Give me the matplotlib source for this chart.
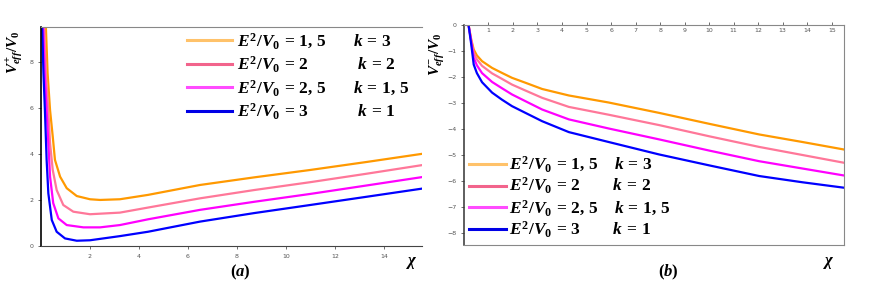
import matplotlib
matplotlib.use("Agg")
import matplotlib.pyplot as plt
from matplotlib.lines import Line2D

plt.rcParams["mathtext.fontset"] = "custom"
plt.rcParams["mathtext.it"] = "Liberation Serif:italic:bold"
plt.rcParams["mathtext.rm"] = "Liberation Serif:bold"
plt.rcParams["mathtext.bf"] = "Liberation Serif:bold"

# ---- data ----
colors = ["#FF9900", "#FF7799", "#FF00FF", "#0000FF"]
legend_colors = ["#FFC26A", "#F2648C", "#FF4CFF", "#0000E6"]
e_labels = [r"1,\,5", "2", r"2,\,5", "3"]
k_labels = ["3", "2", r"1,\,5", "1"]
k_gap_a = [5, 9, 5, 9]  # spaces between the two parts of each legend label
k_gap_b = [3, 6, 3, 6]

# panel (a): V+_eff / V0
xa_orange = [0.2, 0.27, 0.37, 0.48, 0.57, 0.78, 1.05, 1.46, 2.0, 2.41, 3.22, 4.37, 6.49, 8.7, 10.98, 13.3, 15.54]
ya_orange = [9.5, 7.5, 5.9, 4.75, 3.74, 3.01, 2.51, 2.17, 2.03, 2.0, 2.03, 2.22, 2.65, 2.98, 3.30, 3.65, 4.0]
xa_pink = [0.13, 0.2, 0.3, 0.37, 0.48, 0.64, 0.91, 1.32, 2.0, 3.22, 4.37, 6.49, 8.7, 10.98, 13.3, 15.54]
ya_pink = [9.5, 7.5, 5.9, 4.46, 3.3, 2.43, 1.78, 1.49, 1.38, 1.45, 1.67, 2.07, 2.43, 2.77, 3.14, 3.51]
xa_magenta = [0.09, 0.15, 0.23, 0.3, 0.37, 0.5, 0.71, 1.05, 1.73, 2.41, 3.22, 4.37, 6.49, 8.7, 10.98, 13.3, 15.54]
ya_magenta = [9.5, 7.5, 5.9, 4.46, 3.01, 1.86, 1.2, 0.91, 0.81, 0.81, 0.91, 1.16, 1.57, 1.92, 2.26, 2.63, 2.99]
xa_blue = [0.05, 0.1, 0.16, 0.23, 0.3, 0.44, 0.64, 0.98, 1.46, 2.0, 3.22, 4.37, 6.49, 8.7, 10.98, 13.3, 15.54]
ya_blue = [9.5, 7.5, 5.9, 3.74, 2.29, 1.13, 0.62, 0.33, 0.23, 0.25, 0.43, 0.62, 1.06, 1.43, 1.78, 2.14, 2.49]

# panel (b): V-_eff / V0
xb = [0.19, 0.3, 0.4, 0.53, 0.74, 1.15, 1.55, 1.96, 2.51, 3.19, 4.28, 5.9, 7.96, 10.0, 12.04, 13.8, 15.5]
yb_orange = [0, -0.56, -0.94, -1.17, -1.39, -1.65, -1.84, -2.03, -2.22, -2.46, -2.71, -2.98, -3.38, -3.8, -4.21, -4.5, -4.79]
yb_pink = [0, -0.6, -1.07, -1.32, -1.57, -1.86, -2.07, -2.29, -2.52, -2.8, -3.15, -3.45, -3.85, -4.28, -4.69, -5.0, -5.3]
yb_magenta = [0, -0.65, -1.26, -1.55, -1.85, -2.19, -2.43, -2.67, -2.93, -3.25, -3.63, -3.98, -4.4, -4.83, -5.24, -5.52, -5.79]
yb_blue = [0, -0.75, -1.52, -1.85, -2.2, -2.6, -2.87, -3.12, -3.38, -3.7, -4.12, -4.5, -4.98, -5.4, -5.81, -6.05, -6.26]

xticks_a = [2, 4, 6, 8, 10, 12, 14]
yticks_a = [0, 2, 4, 6, 8]
xticks_b = list(range(1, 16))
yticks_b = [0, -1, -2, -3, -4, -5, -6, -7, -8]

curves_a = [(xa_orange, ya_orange), (xa_pink, ya_pink), (xa_magenta, ya_magenta), (xa_blue, ya_blue)]
curves_b = [yb_orange, yb_pink, yb_magenta, yb_blue]

fig = plt.figure(figsize=(8.72, 2.95), dpi=100)
ax1 = fig.add_axes([0.047, 0.166, 0.437, 0.742])
ax2 = fig.add_axes([0.532, 0.169, 0.436, 0.746])

tick_col = "#555555"
lw = 1.6

for (x, y), c in zip(curves_a, colors):
    ax1.plot(x, y, color=c, lw=lw, solid_joinstyle="round")
for y, c in zip(curves_b, colors):
    ax2.plot(xb, y, color=c, lw=lw, solid_joinstyle="round")


def make_handles(gaps):
    hs = [Line2D([0], [0], color=c, lw=2.2) for c in legend_colors]
    labs = [f"$E^2/V_0\\,=\\,{e}$" + " " * g + f"$k\\,=\\,{k}$"
            for e, k, g in zip(e_labels, k_labels, gaps)]
    return hs, labs


# panel (a)
ax1.set_xlim(0, 15.55)
ax1.set_ylim(0, 9.5)
ax1.set_xticks(xticks_a)
ax1.set_yticks(yticks_a)
ax1.tick_params(labelsize=4.5, colors=tick_col, length=2, width=0.6)
ax1.spines["right"].set_visible(False)
ax1.spines["top"].set_color("#888888")
ax1.spines["bottom"].set_color("#444444")
ax1.spines["left"].set_color("black")
ax1.spines["left"].set_linewidth(1.2)
hs, labs = make_handles(k_gap_a)
ax1.legend(hs, labs, loc="upper left", bbox_to_anchor=(0.375, 0.997), frameon=False,
           fontsize=12.5, handlelength=2.6, handletextpad=0.25, labelspacing=0.2,
           borderaxespad=0.0, borderpad=0.2)

# panel (b)
ax2.set_xlim(0, 15.5)
ax2.set_ylim(-8.47, 0)
ax2.set_xticks(xticks_b)
ax2.set_yticks(yticks_b)
ax2.xaxis.tick_top()
ax2.tick_params(axis="x", labelsize=4.5, colors=tick_col, length=2, width=0.6,
                direction="out", pad=-8)
ax2.tick_params(axis="y", labelsize=4.5, colors=tick_col, length=2, width=0.6)
for s in ["top", "right", "bottom"]:
    ax2.spines[s].set_color("#888888")
ax2.spines["left"].set_color("#333333")
ax2.spines["left"].set_linewidth(1.1)
hs, labs = make_handles(k_gap_b)
ax2.legend(hs, labs, loc="lower left", bbox_to_anchor=(0.0, 0.0), frameon=False,
           fontsize=12.5, handlelength=2.1, handletextpad=0.2, labelspacing=0.1,
           borderaxespad=0.0, borderpad=0.3)

# axis labels and panel names
fig.text(15 / 872, 1 - 52 / 295, "$V^{+}_{eff}/V_0$", rotation=90, fontsize=11,
         ha="center", va="center")
fig.text(437 / 872, 1 - 54 / 295, "$V^{-}_{eff}/V_0$", rotation=90, fontsize=11,
         ha="center", va="center")
fig.text(412 / 872, 1 - 262 / 295, r"$\chi$", fontsize=12, ha="center", va="center")
fig.text(829 / 872, 1 - 262 / 295, r"$\chi$", fontsize=12, ha="center", va="center")
fig.text(240 / 872, 1 - 272 / 295, "$(a)$", fontsize=12, ha="center", va="center")
fig.text(668 / 872, 1 - 272 / 295, "$(b)$", fontsize=12, ha="center", va="center")

fig.savefig("out.png", dpi=100)
